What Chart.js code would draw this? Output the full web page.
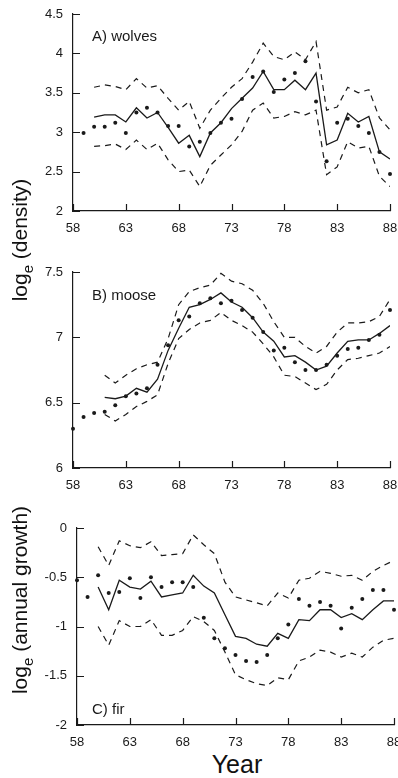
<!DOCTYPE html>
<html>
<head>
<meta charset="utf-8">
<script src="https://cdn.jsdelivr.net/npm/chart.js@4.4.1/dist/chart.umd.min.js"></script>
<style>
  body { margin:0; background:#fff; width:398px; height:778px; overflow:hidden; position:relative;
         font-family:"Liberation Sans", Arial, sans-serif; color:#111; }
  canvas { position:absolute; left:0; }
  .ytitle { position:absolute; left:22px; transform:translate(-50%,-50%) rotate(-90deg);
            font-size:21px; white-space:nowrap; line-height:1; }
  .ytitle sub { font-size:15px; }
  #xtitle { position:absolute; left:237px; top:752px; transform:translateX(-50%); font-size:25px; line-height:1; }
</style>
</head>
<body>
<canvas id="wolves" width="398" height="240" style="top:0"></canvas>
<canvas id="moose" width="398" height="245" style="top:250px"></canvas>
<canvas id="fir" width="398" height="245" style="top:505px"></canvas>
<div class="ytitle" style="top:240px">log<sub>e</sub> (density)</div>
<div class="ytitle" style="top:600px">log<sub>e</sub> (annual growth)</div>
<div id="xtitle">Year</div>
<script>
const years = [58, 59, 60, 61, 62, 63, 64, 65, 66, 67, 68, 69, 70, 71, 72, 73,
               74, 75, 76, 77, 78, 79, 80, 81, 82, 83, 84, 85, 86, 87, 88];
const xTicks = [58, 63, 68, 73, 78, 83, 88];

// A) wolves
const wolvesObs = [null, 2.99, 3.07, 3.07, 3.12, 2.99, 3.25, 3.31, 3.25, 3.08, 3.08, 2.82, 2.88, 2.99, 3.12, 3.17,
                   3.42, 3.70, 3.77, 3.51, 3.67, 3.75, 3.90, 3.39, 2.63, 3.12, 3.17, 3.08, 2.99, 2.75, 2.47];
const wolvesFit = [null, null, 3.19, 3.22, 3.22, 3.13, 3.31, 3.18, 3.25, 3.06, 2.86, 2.96, 2.69, 2.99, 3.12, 3.30,
                   3.43, 3.56, 3.77, 3.54, 3.54, 3.66, 3.54, 3.75, 2.84, 2.90, 3.24, 3.13, 3.20, 2.75, 2.66];
const wolvesUp  = [null, null, 3.57, 3.60, 3.58, 3.54, 3.68, 3.56, 3.59, 3.43, 3.28, 3.39, 3.05, 3.28, 3.43, 3.57,
                   3.68, 3.89, 4.13, 3.96, 3.92, 4.02, 3.92, 4.15, 3.28, 3.32, 3.57, 3.50, 3.54, 3.18, 3.03];
const wolvesLo  = [null, null, 2.82, 2.83, 2.85, 2.78, 2.90, 2.78, 2.86, 2.65, 2.50, 2.52, 2.31, 2.58, 2.71, 2.84,
                   3.01, 3.28, 3.37, 3.18, 3.20, 3.26, 3.22, 3.28, 2.46, 2.56, 2.88, 2.80, 2.82, 2.44, 2.31];
const wolvesYTicks = [2, 2.5, 3, 3.5, 4, 4.5];

// B) moose
const mooseObs = [6.30, 6.39, 6.42, 6.43, 6.48, 6.55, 6.57, 6.61, 6.79, 6.94, 7.13, 7.16, 7.26, 7.30, 7.26, 7.28,
                  7.21, 7.15, 7.04, 6.90, 6.92, 6.81, 6.75, 6.75, 6.79, 6.86, 6.91, 6.92, 6.98, 7.02, 7.21];
const mooseFit = [null, null, null, 6.54, 6.53, 6.55, 6.61, 6.58, 6.68, 6.90, 7.07, 7.23, 7.25, 7.29, 7.34, 7.27,
                  7.23, 7.15, 7.04, 6.97, 6.85, 6.86, 6.81, 6.75, 6.78, 6.88, 6.97, 6.98, 6.98, 7.03, 7.09];
const mooseUp  = [null, null, null, 6.71, 6.65, 6.71, 6.76, 6.79, 6.81, 6.99, 7.25, 7.35, 7.38, 7.40, 7.49, 7.43,
                  7.41, 7.36, 7.26, 7.12, 7.00, 7.00, 6.93, 6.88, 6.93, 7.04, 7.11, 7.11, 7.12, 7.16, 7.29];
const mooseLo  = [null, null, null, 6.41, 6.36, 6.41, 6.47, 6.51, 6.56, 6.80, 6.99, 7.06, 7.11, 7.13, 7.19, 7.13,
                  7.09, 7.04, 6.95, 6.85, 6.71, 6.70, 6.65, 6.60, 6.64, 6.75, 6.83, 6.84, 6.86, 6.88, 6.93];
const mooseYTicks = [6, 6.5, 7, 7.5];

// C) fir
const firObs = [-0.53, -0.70, -0.48, -0.66, -0.65, -0.51, -0.71, -0.50, -0.60, -0.55, -0.55, -0.60, -0.91, -1.12, -1.22, -1.29,
                -1.35, -1.36, -1.29, -1.12, -0.98, -0.72, -0.79, -0.75, -0.79, -1.02, -0.81, -0.72, -0.63, -0.63, -0.83];
const firFit = [null, null, -0.60, -0.83, -0.53, -0.60, -0.62, -0.54, -0.70, -0.68, -0.66, -0.48, -0.59, -0.66, -0.88, -1.10,
                -1.12, -1.18, -1.20, -1.07, -1.12, -0.93, -0.94, -0.83, -0.83, -0.91, -0.87, -0.93, -0.83, -0.74, -0.74];
const firUp  = [null, null, -0.19, -0.38, -0.13, -0.18, -0.20, -0.14, -0.28, -0.27, -0.26, -0.07, -0.17, -0.26, -0.55, -0.70,
                -0.73, -0.76, -0.79, -0.66, -0.71, -0.53, -0.51, -0.44, -0.46, -0.49, -0.48, -0.53, -0.44, -0.38, -0.33];
const firLo  = [null, null, -1.00, -1.19, -0.94, -1.00, -1.00, -0.93, -1.09, -1.09, -1.04, -0.90, -0.95, -1.04, -1.26, -1.49,
                -1.54, -1.58, -1.60, -1.52, -1.54, -1.35, -1.31, -1.24, -1.26, -1.31, -1.27, -1.31, -1.21, -1.14, -1.12];
const firYTicks = [-2, -1.5, -1, -0.5, 0];

const INK = '#1a1a1a';
const FONT = '"Liberation Sans", Arial, sans-serif';

function pts(arr) {
  return years.map((yr, i) => ({x: yr, y: arr[i]}));
}

// tick marks drawn on the inside of the axes
const inwardTicks = {
  id: 'inwardTicks',
  afterDraw(chart) {
    const {ctx, scales: {x, y}} = chart;
    ctx.save();
    ctx.strokeStyle = INK;
    ctx.lineWidth = 1.2;
    ctx.beginPath();
    x.ticks.forEach(t => {
      const px = Math.round(x.getPixelForValue(t.value)) + 0.5;
      ctx.moveTo(px, x.top);
      ctx.lineTo(px, x.top - 7);
    });
    y.ticks.forEach(t => {
      const py = Math.round(y.getPixelForValue(t.value)) + 0.5;
      ctx.moveTo(y.right, py);
      ctx.lineTo(y.right + 7, py);
    });
    ctx.stroke();
    ctx.restore();
  }
};

const panelLabel = {
  id: 'panelLabel',
  afterDraw(chart, args, opts) {
    const {ctx, chartArea} = chart;
    ctx.save();
    ctx.fillStyle = INK;
    ctx.font = '15px ' + FONT;
    ctx.textBaseline = 'alphabetic';
    const yy = opts.fromBottom ? chartArea.bottom - opts.dy : chartArea.top + opts.dy;
    ctx.fillText(opts.text, chartArea.left + opts.dx, yy);
    ctx.restore();
  }
};

function panel(id, p) {
  new Chart(document.getElementById(id), {
    type: 'line',
    data: {
      datasets: [
        { data: pts(p.obs), showLine: false, pointRadius: 2, pointBackgroundColor: INK,
          pointBorderWidth: 0, clip: false },
        { data: pts(p.fit), borderColor: INK, borderWidth: 1.3, pointRadius: 0, tension: 0 },
        { data: pts(p.up), borderColor: INK, borderWidth: 1.2, borderDash: [6, 5], pointRadius: 0 },
        { data: pts(p.lo), borderColor: INK, borderWidth: 1.2, borderDash: [6, 5], pointRadius: 0 }
      ]
    },
    options: {
      responsive: false,
      animation: false,
      layout: { padding: { top: p.top, right: p.right, left: 0, bottom: 0 } },
      scales: {
        x: {
          type: 'linear', min: 58, max: 88,
          afterBuildTicks: s => { s.ticks = xTicks.map(v => ({value: v})); },
          afterFit: s => { s.height = p.xH; s.paddingLeft = 0; s.paddingRight = 0; },
          grid: { display: false, drawTicks: false },
          border: { color: INK, width: 1.2 },
          ticks: { padding: 10, color: INK, maxRotation: 0, autoSkip: false,
                   font: { size: 13, family: FONT }, callback: v => String(v) }
        },
        y: {
          min: p.yTicks[0], max: p.yTicks[p.yTicks.length - 1],
          afterBuildTicks: s => { s.ticks = p.yTicks.map(v => ({value: v})); },
          afterFit: s => { s.width = p.yW; s.paddingTop = 0; s.paddingBottom = 0; },
          grid: { display: false, drawTicks: false },
          border: { color: INK, width: 1.2 },
          ticks: { padding: 10, color: INK, font: { size: 13, family: FONT }, callback: v => String(v) }
        }
      },
      plugins: {
        legend: { display: false },
        tooltip: { enabled: false },
        panelLabel: p.label
      }
    },
    plugins: [inwardTicks, panelLabel]
  });
}

panel('wolves', { obs: wolvesObs, fit: wolvesFit, up: wolvesUp, lo: wolvesLo, yTicks: wolvesYTicks,
  top: 14, right: 8, yW: 73, xH: 29, label: { text: 'A) wolves', dx: 19, dy: 27 } });
panel('moose', { obs: mooseObs, fit: mooseFit, up: mooseUp, lo: mooseLo, yTicks: mooseYTicks,
  top: 22, right: 8, yW: 73, xH: 27, label: { text: 'B) moose', dx: 19, dy: 28 } });
panel('fir', { obs: firObs, fit: firFit, up: firUp, lo: firLo, yTicks: firYTicks,
  top: 23, right: 4, yW: 77, xH: 25, label: { text: 'C) fir', dx: 15, dy: 11, fromBottom: true } });
</script>
</body>
</html>
